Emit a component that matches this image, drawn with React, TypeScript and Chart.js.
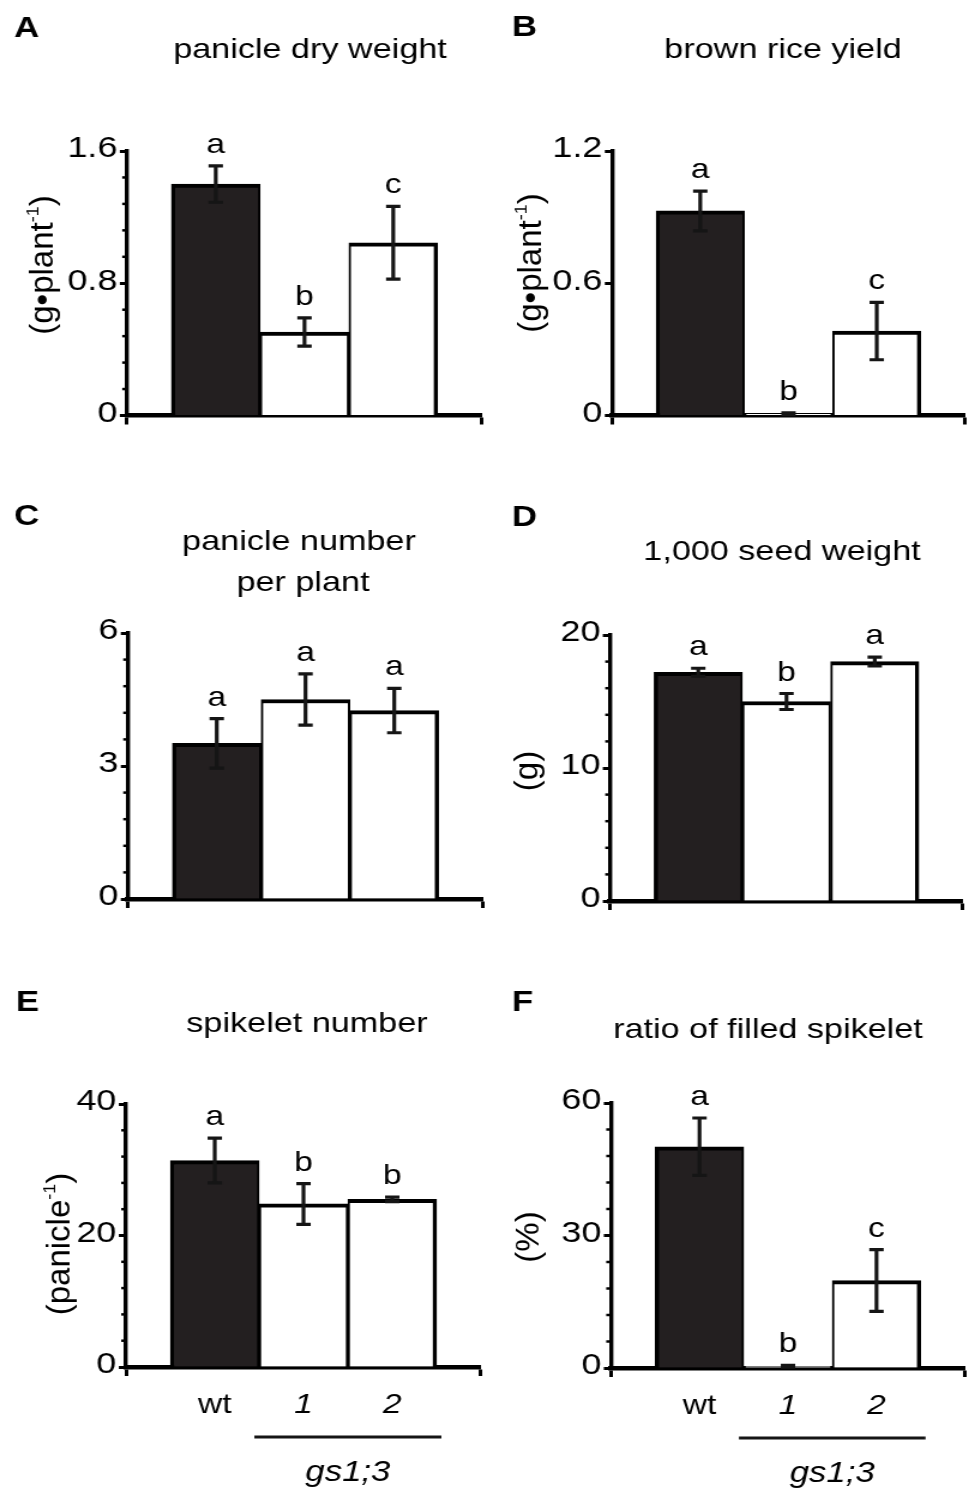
import React, { useEffect, useRef } from 'react';
import { Chart, registerables } from 'chart.js';

Chart.register(...registerables);

const FONT = '"Liberation Sans", Arial, Helvetica, sans-serif';
const INK = '#000';
const DARK = '#231f20';
// the original figure is drawn horizontally stretched; each canvas is drawn narrow and widened by CSS
const SX = 1.2;

// ---------- data ----------
const xLabels = ['', 'wt', '1', '2', ''];
const groupLabel = 'gs1;3';

const dryWeight = [1.4, 0.505, 1.045];
const dryWeightErr = [0.11, 0.085, 0.22];
const dryWeightSig = ['a', 'b', 'c'];
const dryWeightTicks = [0, 0.8, 1.6];

const riceYield = [0.928, 0.008, 0.383];
const riceYieldErr = [0.09, 0.004, 0.13];
const riceYieldSig = ['a', 'b', 'c'];
const riceYieldTicks = [0, 0.6, 1.2];

const panicleNum = [3.51, 4.5, 4.25];
const panicleNumErr = [0.56, 0.58, 0.5];
const panicleNumSig = ['a', 'a', 'a'];
const panicleNumTicks = [0, 3, 6];

const seedWeight = [17.2, 15.0, 18.0];
const seedWeightErr = [0.3, 0.6, 0.33];
const seedWeightSig = ['a', 'b', 'a'];
const seedWeightTicks = [0, 10, 20];

const spikeletNum = [31.4, 24.8, 25.5];
const spikeletNumErr = [3.4, 3.1, 0.35];
const spikeletNumSig = ['a', 'b', 'b'];
const spikeletNumTicks = [0, 20, 40];

const filledRatio = [50.1, 0.4, 19.8];
const filledRatioErr = [6.5, 0.2, 7.0];
const filledRatioSig = ['a', 'b', 'c'];
const filledRatioTicks = [0, 30, 60];

// ---------- layout (page pixel coordinates) ----------
const Y_W = 50; // internal units
const X_H = 60;

type Panel = {
  letter: string;
  letterPos: [number, number];
  title: { text: string; x: number; y: number }[];
  yTitle: { main: string; sup: string; close: string; x: number; y: number } | null;
  values: number[];
  err: number[];
  sig: string[];
  ticks: number[];
  minorStep: number | null;
  box: [number, number, number, number];
  area: [number, number, number, number]; // left, top, right, bottom
  showX: boolean;
};

const panels: Panel[] = [
  {
    letter: 'A', letterPos: [14, 37],
    title: [{ text: 'panicle dry weight', x: 310, y: 58 }],
    yTitle: { main: '(g•plant', sup: '-1', close: ')', x: 44, y: 265 },
    values: dryWeight, err: dryWeightErr, sig: dryWeightSig, ticks: dryWeightTicks, minorStep: 0.16,
    box: [0, 0, 487, 480], area: [127, 151, 482, 415.5], showX: false,
  },
  {
    letter: 'B', letterPos: [512, 36],
    title: [{ text: 'brown rice yield', x: 783, y: 58 }],
    yTitle: { main: '(g•plant', sup: '-1', close: ')', x: 532, y: 263 },
    values: riceYield, err: riceYieldErr, sig: riceYieldSig, ticks: riceYieldTicks, minorStep: null,
    box: [487, 0, 488, 480], area: [612, 151, 965, 415.5], showX: false,
  },
  {
    letter: 'C', letterPos: [14, 525],
    title: [
      { text: 'panicle number', x: 299, y: 550 },
      { text: 'per plant', x: 303, y: 591 },
    ],
    yTitle: null,
    values: panicleNum, err: panicleNumErr, sig: panicleNumSig, ticks: panicleNumTicks, minorStep: 0.6,
    box: [0, 480, 487, 480], area: [128, 633, 483, 899], showX: false,
  },
  {
    letter: 'D', letterPos: [512, 526],
    title: [{ text: '1,000 seed weight', x: 782, y: 560 }],
    yTitle: { main: '(g)', sup: '', close: '', x: 528, y: 771 },
    values: seedWeight, err: seedWeightErr, sig: seedWeightSig, ticks: seedWeightTicks, minorStep: 2,
    box: [487, 480, 488, 480], area: [610, 635, 963, 901], showX: false,
  },
  {
    letter: 'E', letterPos: [16, 1011],
    title: [{ text: 'spikelet number', x: 307, y: 1032 }],
    yTitle: { main: '(panicle', sup: '-1', close: ')', x: 61, y: 1244 },
    values: spikeletNum, err: spikeletNumErr, sig: spikeletNumSig, ticks: spikeletNumTicks, minorStep: 4,
    box: [0, 960, 487, 536], area: [126, 1104, 481, 1367], showX: true,
  },
  {
    letter: 'F', letterPos: [512, 1011],
    title: [{ text: 'ratio of filled spikelet', x: 768, y: 1038 }],
    yTitle: { main: '(%)', sup: '', close: '', x: 530, y: 1237 },
    values: filledRatio, err: filledRatioErr, sig: filledRatioSig, ticks: filledRatioTicks, minorStep: 6,
    box: [487, 960, 488, 536], area: [611, 1103, 965, 1368], showX: true,
  },
];

function extrasPlugin(p: Panel, sx: number) {
  const ox = p.box[0];
  const oy = p.box[1];
  const X = (px: number) => (px - ox) / sx;
  const Y = (py: number) => py - oy;
  return {
    id: 'panelExtras',
    afterDraw(chart: any) {
      const ctx: CanvasRenderingContext2D = chart.ctx;
      const xs = chart.scales.x;
      const ys = chart.scales.y;
      const left = chart.chartArea.left;
      const bottom = chart.chartArea.bottom;
      ctx.save();

      // minor ticks on y axis
      if (p.minorStep) {
        ctx.strokeStyle = '#000';
        ctx.lineWidth = 2.5;
        const maxV = p.ticks[p.ticks.length - 1];
        for (let k = 1; k * p.minorStep < maxV - 1e-9; k++) {
          const v = k * p.minorStep;
          if (p.ticks.some((t) => Math.abs(t - v) < 1e-9)) continue;
          const py = ys.getPixelForValue(v);
          ctx.beginPath();
          ctx.moveTo(left - 4, py);
          ctx.lineTo(left, py);
          ctx.stroke();
        }
      }

      // error bars + significance letters
      const cap = 6;
      p.values.forEach((v, i) => {
        const cx = xs.getPixelForValue(i + 1);
        const yt = ys.getPixelForValue(v + p.err[i]);
        const yb = ys.getPixelForValue(Math.max(0, v - p.err[i]));
        ctx.strokeStyle = '#151515';
        ctx.lineWidth = 3.2;
        ctx.beginPath();
        ctx.moveTo(cx, yt);
        ctx.lineTo(cx, yb);
        ctx.moveTo(cx - cap, yt);
        ctx.lineTo(cx + cap, yt);
        ctx.moveTo(cx - cap, yb);
        ctx.lineTo(cx + cap, yb);
        ctx.stroke();

        ctx.fillStyle = INK;
        ctx.font = `28px ${FONT}`;
        ctx.textAlign = 'center';
        ctx.textBaseline = 'alphabetic';
        ctx.fillText(p.sig[i], cx, yt - 13);
      });

      // panel letter
      ctx.fillStyle = '#000';
      ctx.font = `bold 29px ${FONT}`;
      ctx.textAlign = 'left';
      ctx.textBaseline = 'alphabetic';
      ctx.fillText(p.letter, X(p.letterPos[0]), Y(p.letterPos[1]));

      // title
      ctx.fillStyle = INK;
      ctx.font = `28.5px ${FONT}`;
      ctx.textAlign = 'center';
      p.title.forEach((t) => ctx.fillText(t.text, X(t.x), Y(t.y)));

      // rotated y title with superscript (drawn without the horizontal stretch)
      if (p.yTitle) {
        const yt = p.yTitle;
        const mainFont = `33px ${FONT}`;
        const supFont = `18px ${FONT}`;
        ctx.font = mainFont;
        const w1 = ctx.measureText(yt.main).width;
        const w3 = ctx.measureText(yt.close).width;
        ctx.font = supFont;
        const w2 = yt.sup ? ctx.measureText(yt.sup).width : 0;
        const total = w1 + w2 + w3;
        ctx.save();
        ctx.translate(X(yt.x), Y(yt.y));
        ctx.scale(1 / sx, 1);
        ctx.rotate(-Math.PI / 2);
        ctx.textAlign = 'left';
        ctx.textBaseline = 'middle';
        ctx.font = mainFont;
        ctx.fillText(yt.main, -total / 2, 0);
        if (yt.sup) {
          ctx.font = supFont;
          ctx.fillText(yt.sup, -total / 2 + w1, -11);
        }
        ctx.font = mainFont;
        ctx.fillText(yt.close, -total / 2 + w1 + w2, 0);
        ctx.restore();
      }

      // group bracket under mutant lines
      if (p.showX) {
        const c2 = xs.getPixelForValue(2);
        const c3 = xs.getPixelForValue(3);
        const half = (c3 - c2) / 2;
        const x1 = c2 - half - 4;
        const x2 = c3 + half + 4;
        const ly = bottom + 70;
        ctx.strokeStyle = '#151515';
        ctx.lineWidth = 3;
        ctx.beginPath();
        ctx.moveTo(x1, ly);
        ctx.lineTo(x2, ly);
        ctx.stroke();
        ctx.fillStyle = INK;
        ctx.font = `italic 29px ${FONT}`;
        ctx.textAlign = 'center';
        ctx.textBaseline = 'alphabetic';
        ctx.fillText(groupLabel, (x1 + x2) / 2, bottom + 114);
      }
      ctx.restore();
    },
  };
}

function PanelChart({ p }: { p: Panel }) {
  const ref = useRef<HTMLCanvasElement | null>(null);
  const [bx, by, bw, bh] = p.box;
  const iw = Math.round(bw / SX);
  const sx = bw / iw;
  useEffect(() => {
    if (!ref.current) return;
    const [al, at, ar, ab] = p.area;
    const padding = {
      left: (al - bx) / sx - Y_W,
      right: iw - (ar - bx) / sx,
      top: at - by,
      bottom: bh - (ab - by) - X_H,
    };
    const maxV = p.ticks[p.ticks.length - 1];
    const chart = new Chart(ref.current, {
      type: 'bar',
      data: {
        labels: xLabels,
        datasets: [
          {
            data: [null, ...p.values, null] as any,
            backgroundColor: ['#fff', DARK, '#fff', '#fff', '#fff'],
            borderColor: '#000',
            borderWidth: ((c: any) => ({
              top: 4,
              left: c.dataIndex === 1 ? 3.5 : 2,
              right: c.dataIndex === 3 ? 3.5 : 2,
              bottom: 0,
            })) as any,
            borderSkipped: 'start',
            barPercentage: 1,
            categoryPercentage: 1,
          },
        ],
      },
      options: {
        responsive: false,
        maintainAspectRatio: false,
        animation: false,
        events: [],
        layout: { padding },
        plugins: {
          legend: { display: false },
          tooltip: { enabled: false },
          title: { display: false },
        },
        scales: {
          x: {
            type: 'category',
            offset: false,
            z: 1,
            border: { display: true, color: '#000', width: 4.5 },
            grid: {
              offset: false,
              drawOnChartArea: false,
              drawTicks: true,
              tickLength: 9,
              tickWidth: 3,
              color: '#000',
              tickColor: ((c: any) => (c.index === 0 || c.index === 4 ? '#000' : 'rgba(0,0,0,0)')) as any,
            },
            ticks: {
              display: p.showX,
              autoSkip: false,
              maxRotation: 0,
              minRotation: 0,
              padding: 12,
              color: INK,
              font: ((c: any) => ({ family: FONT, size: 28, style: c.index === 1 ? 'normal' : 'italic' })) as any,
            },
            afterFit: (s: any) => {
              s.height = X_H;
              s.paddingLeft = 0;
              s.paddingRight = 0;
            },
          },
          y: {
            min: 0,
            max: maxV,
            z: 1,
            border: { display: true, color: '#000', width: 3.4 },
            grid: {
              drawOnChartArea: false,
              drawTicks: true,
              tickLength: 6,
              tickWidth: 3,
              color: '#000',
              tickColor: '#000',
            },
            ticks: {
              color: INK,
              padding: 2,
              labelOffset: -2,
              font: { family: FONT, size: 30 },
              callback: (v: any) => String(v),
            },
            afterBuildTicks: (s: any) => {
              s.ticks = p.ticks.map((v) => ({ value: v }));
            },
            afterFit: (s: any) => {
              s.width = Y_W;
            },
          },
        },
      },
      plugins: [extrasPlugin(p, sx)],
    } as any);
    return () => chart.destroy();
  }, [p]);
  return (
    <canvas
      ref={ref}
      width={iw}
      height={bh}
      style={{ position: 'absolute', left: bx, top: by, width: bw, height: bh }}
    />
  );
}

export default function App() {
  return (
    <div style={{ position: 'absolute', left: 0, top: 0, width: 975, height: 1496, background: '#fff' }}>
      {panels.map((p) => (
        <PanelChart key={p.letter} p={p} />
      ))}
    </div>
  );
}
